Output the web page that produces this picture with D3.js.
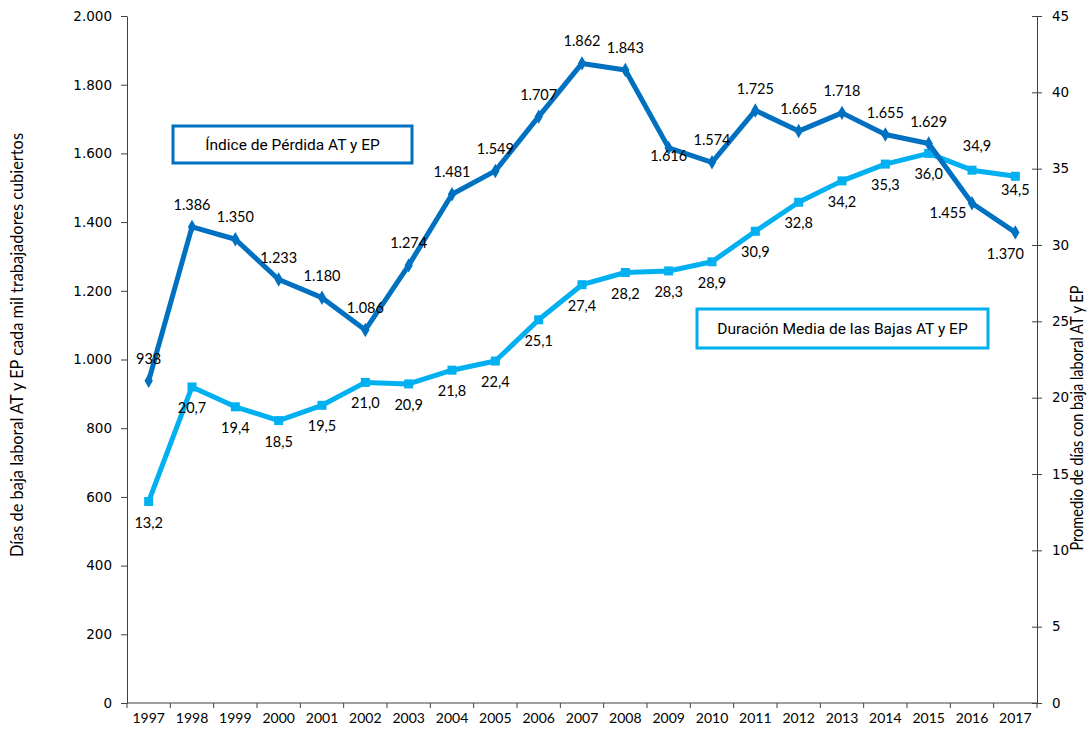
<!DOCTYPE html>
<html>
<head>
<meta charset="utf-8">
<script src="https://cdn.jsdelivr.net/npm/d3@7"></script>
<style>
  body { margin: 0; background: #fff; }
  svg text { fill: #000; }
</style>
</head>
<body>
<svg id="chart" width="1091" height="733"></svg>
<script>
// Data
const years = ["1997","1998","1999","2000","2001","2002","2003","2004","2005","2006","2007",
  "2008","2009","2010","2011","2012","2013","2014","2015","2016","2017"];
const indicePerdida = [938, 1386, 1350, 1233, 1180, 1086, 1274, 1481, 1549, 1707, 1862,
  1843, 1616, 1574, 1725, 1665, 1718, 1655, 1629, 1455, 1370];
const duracionMedia = [13.2, 20.7, 19.4, 18.5, 19.5, 21.0, 20.9, 21.8, 22.4, 25.1, 27.4,
  28.2, 28.3, 28.9, 30.9, 32.8, 34.2, 35.3, 36.0, 34.9, 34.5];
const leftTicks = [0, 200, 400, 600, 800, 1000, 1200, 1400, 1600, 1800, 2000];
const rightTicks = [0, 5, 10, 15, 20, 25, 30, 35, 40, 45];

const DARK = "#0070c0";
const LIGHT = "#00b0f0";
const AXIS = "#404040";

// Chart area
const plotLeft = 127, plotRight = 1037, plotTop = 16, plotBottom = 703;
const svg = d3.select("#chart");

// Scales
const x = d3.scaleBand().domain(years).range([plotLeft, plotRight]);
const xc = (d) => x(d) + x.bandwidth() / 2;
const yL = d3.scaleLinear().domain([0, 2000]).range([plotBottom, plotTop]);
const yR = d3.scaleLinear().domain([0, 45]).range([plotBottom, plotTop]);

const esLocale = d3.formatLocale({ decimal: ",", thousands: ".", grouping: [3], currency: ["", "€"] });
const fmtL = (v) => (v >= 1000 ? esLocale.format(",")(v) : String(v));
const fmtDec = esLocale.format(".1f");

// Left axis
const axisL = svg.append("g").attr("transform", `translate(${plotLeft},0)`)
  .call(d3.axisLeft(yL).tickValues(leftTicks).tickSize(6).tickSizeOuter(0).tickPadding(9).tickFormat(fmtL));
axisL.selectAll("text").style("font-family", "'DejaVu Sans', sans-serif").style("font-size", "13.5px");

// Right axis (ticks cross the line)
const axisR = svg.append("g").attr("transform", `translate(${plotRight},0)`)
  .call(d3.axisRight(yR).tickValues(rightTicks).tickSize(5).tickSizeOuter(0).tickPadding(10));
axisR.selectAll(".tick line").attr("x1", -5);
axisR.selectAll("text").style("font-family", "'DejaVu Sans', sans-serif").style("font-size", "13.5px");

// Bottom axis: ticks at category boundaries
const axisB = svg.append("g").attr("transform", `translate(0,${plotBottom})`)
  .call(d3.axisBottom(x).tickSize(0).tickPadding(10));
axisB.select(".domain").remove();
axisB.selectAll("text").style("font-family", "Lato, sans-serif").style("font-size", "14px");
svg.append("line").attr("x1", plotLeft).attr("x2", plotRight).attr("y1", plotBottom).attr("y2", plotBottom)
  .attr("stroke", AXIS);
svg.selectAll("line.xtick").data(years.concat(["end"])).enter().append("line")
  .attr("class", "xtick")
  .attr("x1", (d, i) => plotLeft + i * x.step()).attr("x2", (d, i) => plotLeft + i * x.step())
  .attr("y1", plotBottom).attr("y2", plotBottom + 5).attr("stroke", AXIS);

svg.selectAll(".domain, .tick line").attr("stroke", AXIS);

// Axis titles (condensed look)
svg.append("text")
  .attr("transform", `translate(23,345) rotate(-90)`)
  .attr("text-anchor", "middle")
  .attr("textLength", 424).attr("lengthAdjust", "spacingAndGlyphs")
  .style("font-family", "Lato, sans-serif")
  .style("font-size", "17px")
  .text("Días de baja laboral  AT y EP cada mil trabajadores cubiertos");
svg.append("text")
  .attr("transform", `translate(1083,418) rotate(-90)`)
  .attr("text-anchor", "middle")
  .attr("textLength", 265).attr("lengthAdjust", "spacingAndGlyphs")
  .style("font-family", "Lato, sans-serif")
  .style("font-size", "17px")
  .text("Promedio de días con baja laboral AT y EP");

// Lines
const lineL = d3.line().x((d, i) => xc(years[i])).y((d) => yL(d));
const lineR = d3.line().x((d, i) => xc(years[i])).y((d) => yR(d));

svg.append("path").datum(duracionMedia).attr("d", lineR)
  .attr("fill", "none").attr("stroke", LIGHT).attr("stroke-width", 5).attr("stroke-linejoin", "round");
svg.selectAll("rect.mk").data(duracionMedia).enter().append("rect")
  .attr("class", "mk")
  .attr("x", (d, i) => xc(years[i]) - 4.5).attr("y", (d) => yR(d) - 4.5)
  .attr("width", 9).attr("height", 9).attr("fill", LIGHT);

svg.append("path").datum(indicePerdida).attr("d", lineL)
  .attr("fill", "none").attr("stroke", DARK).attr("stroke-width", 5).attr("stroke-linejoin", "round");
const diamond = d3.symbol().type(d3.symbolDiamond).size(60);
svg.selectAll("path.dm").data(indicePerdida).enter().append("path")
  .attr("class", "dm")
  .attr("transform", (d, i) => `translate(${xc(years[i])},${yL(d)})`)
  .attr("d", diamond).attr("fill", DARK);

// Data labels
const labelFont = "Lato, 'Open Sans', sans-serif";
const darkOffsets = { 12: [0, 8], 19: [-24, 10], 20: [-10, 22] };
svg.selectAll("text.lblL").data(indicePerdida).enter().append("text")
  .attr("class", "lblL")
  .attr("x", (d, i) => xc(years[i]) + (darkOffsets[i] ? darkOffsets[i][0] : 0))
  .attr("y", (d, i) => yL(d) + (darkOffsets[i] ? darkOffsets[i][1] : -22))
  .attr("dy", "0.35em")
  .attr("text-anchor", "middle")
  .style("font-family", labelFont).style("font-size", "14.5px")
  .text((d) => fmtL(d));

const lightOffsets = { 19: [5, -24], 20: [0, 14] };
svg.selectAll("text.lblR").data(duracionMedia).enter().append("text")
  .attr("class", "lblR")
  .attr("x", (d, i) => xc(years[i]) + (lightOffsets[i] ? lightOffsets[i][0] : 0))
  .attr("y", (d, i) => yR(d) + (lightOffsets[i] ? lightOffsets[i][1] : 21))
  .attr("dy", "0.35em")
  .attr("text-anchor", "middle")
  .style("font-family", labelFont).style("font-size", "14.5px")
  .text((d) => fmtDec(d));

// Series name boxes
const boxes = [
  { label: "Índice de Pérdida AT y EP", x: 173, y: 126, w: 239, h: 37, color: DARK },
  { label: "Duración Media de las Bajas AT y EP", x: 697, y: 309, w: 291, h: 39, color: LIGHT }
];
boxes.forEach((b) => {
  svg.append("rect").attr("x", b.x).attr("y", b.y).attr("width", b.w).attr("height", b.h)
    .attr("fill", "#fff").attr("stroke", b.color).attr("stroke-width", 3);
  svg.append("text").attr("x", b.x + b.w / 2).attr("y", b.y + b.h / 2).attr("dy", "0.35em")
    .attr("text-anchor", "middle")
    .style("font-family", "Roboto, sans-serif").style("font-size", "15.5px")
    .text(b.label);
});
</script>
</body>
</html>
